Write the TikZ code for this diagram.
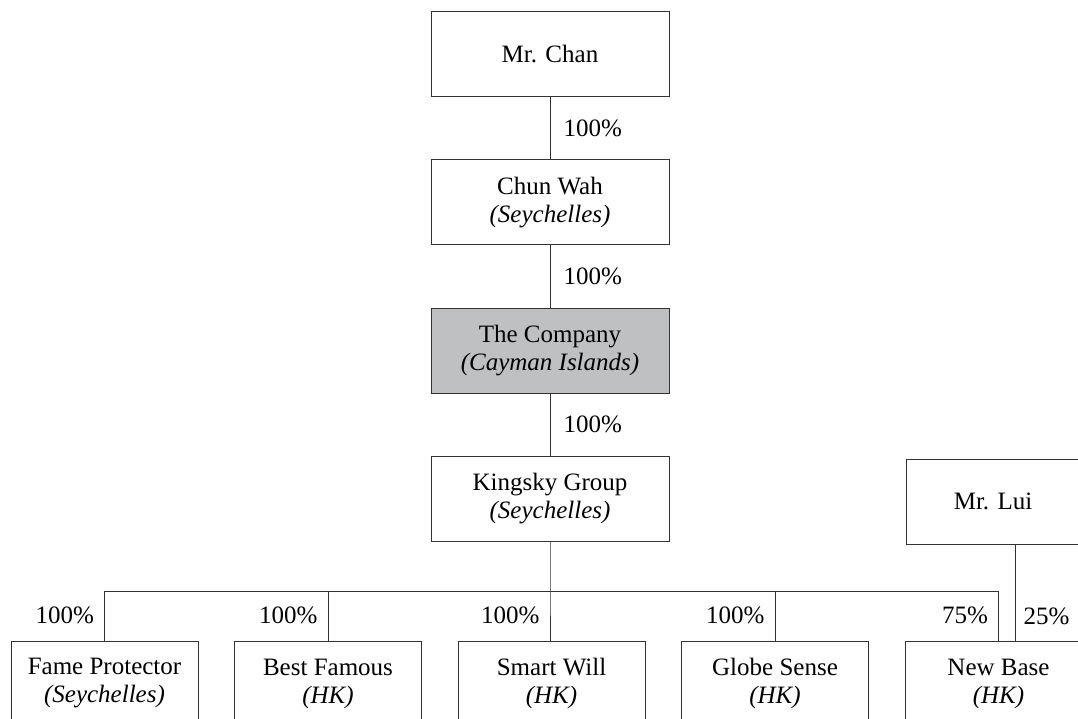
\documentclass[tikz,border=0pt]{standalone}
\usepackage{fontspec}
\setmainfont{Liberation Serif}
\usetikzlibrary{positioning}
\definecolor{compgray}{RGB}{191,192,194}
\definecolor{linegray}{RGB}{50,50,50}

\begin{document}
\begin{tikzpicture}[
    x=1pt, y=-1pt,
    font=\fontsize{25}{28}\selectfont,
    entity/.style={draw=linegray, line width=1pt, minimum width=238pt, minimum height=85pt, inner sep=0pt, align=center},
    sub/.style={entity, minimum width=187pt},
    main/.style={entity, fill=compgray},
    link/.style={draw=linegray, line width=1pt},
    pct/.style={inner sep=0pt}
]
\useasboundingbox (0,0) rectangle (1078,719);
\clip (0,0) rectangle (1078,719);

% ownership chain
\node[entity] (chan) at (550,54.5) {Mr. Chan};
\node[entity, below=62pt of chan] (chunwah) {Chun Wah\\\textit{(Seychelles)}};
\node[main, below=62pt of chunwah] (company) {The Company\\\textit{(Cayman Islands)}};
\node[entity, below=62pt of company] (kingsky) {Kingsky Group\\\textit{(Seychelles)}};
\node[entity, minimum width=174pt] (lui) at (993,501.5) {Mr. Lui};

% subsidiaries
\node[sub] (fame) at (104.5,683.5) {Fame Protector\\\textit{(Seychelles)}};
\node[sub, right=35.5pt of fame] (best) {Best Famous\\\textit{(HK)}};
\node[sub, right=35.5pt of best] (smart) {Smart Will\\\textit{(HK)}};
\node[sub, right=35.5pt of smart] (globe) {Globe Sense\\\textit{(HK)}};
\node[sub, right=35.5pt of globe] (newbase) {New Base\\\textit{(HK)}};

\coordinate (bus) at (550,591);

\draw[link] (chan) -- node[pct, right=13pt] {100\%} (chunwah);
\draw[link] (chunwah) -- node[pct, right=13pt] {100\%} (company);
\draw[link] (company) -- node[pct, right=13pt] {100\%} (kingsky);
\draw[link] (kingsky.south) -- (bus) -- node[pct, left=10pt] {100\%} (bus |- smart.north);

\draw[link] (fame.north |- bus) -- (newbase.north |- bus);
\draw[link] (fame.north |- bus) -- node[pct, left=10pt] {100\%} (fame.north);
\draw[link] (best.north |- bus) -- node[pct, left=10pt] {100\%} (best.north);
\draw[link] (globe.north |- bus) -- node[pct, left=10pt] {100\%} (globe.north);
\draw[link] (newbase.north |- bus) -- node[pct, left=10pt] {75\%} (newbase.north);
\draw[link] ([xshift=22pt]lui.south) -- node[pct, right=8pt, pos=0.745] {25\%} ([xshift=22pt]lui.south |- newbase.north);
\end{tikzpicture}
\end{document}
